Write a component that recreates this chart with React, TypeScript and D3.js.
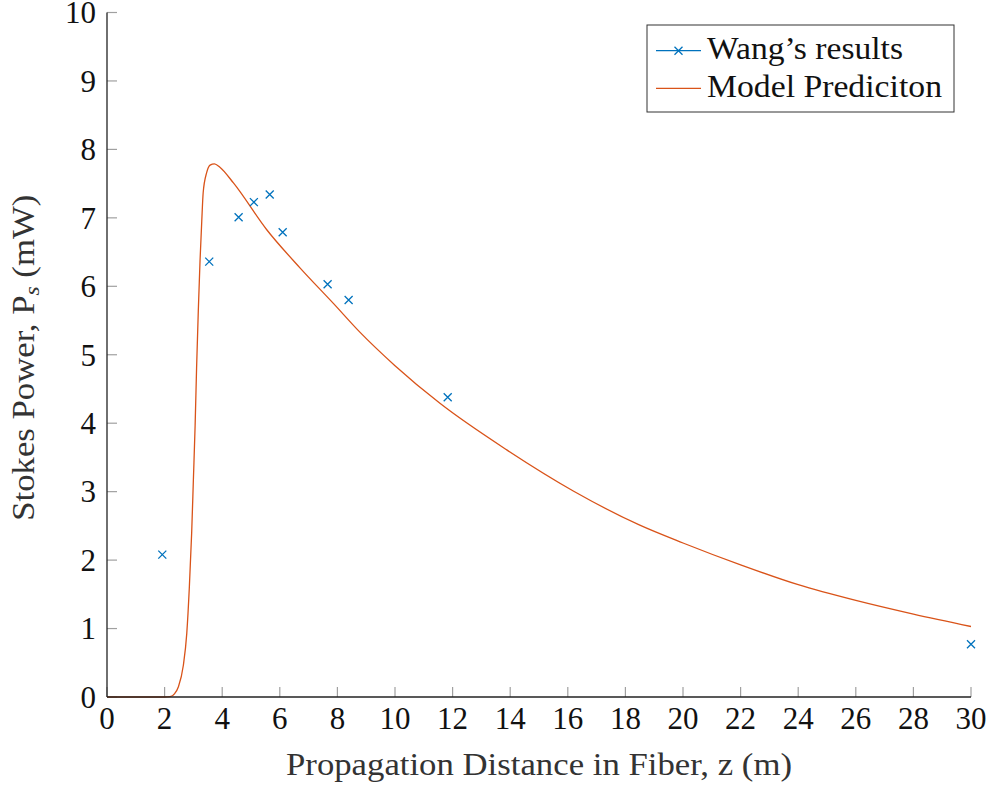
import React from "react";
import * as d3 from "d3";

const wangZ = [1.92, 3.55, 4.57, 5.1, 5.65, 6.1, 7.66, 8.39, 11.83, 30.0];
const wangP = [2.08, 6.36, 7.01, 7.23, 7.34, 6.79, 6.03, 5.8, 4.38, 0.77];

const modelZ = [0, 1, 2.0, 2.19, 2.35, 2.48, 2.65, 2.77, 2.86, 2.94, 3.0, 3.06, 3.11, 3.17, 3.23, 3.29, 3.34, 3.46, 3.58, 3.73, 3.92, 4.39, 5.54, 6.7, 7.86, 8.78, 10, 11.56, 13.88, 16.19, 18.5, 20, 22, 24, 26, 28, 30];
const modelP = [0, 0, 0, 0.005, 0.05, 0.15, 0.46, 0.93, 1.61, 2.4, 3.18, 3.97, 4.8, 5.64, 6.37, 6.95, 7.37, 7.66, 7.77, 7.79, 7.74, 7.51, 6.83, 6.27, 5.75, 5.33, 4.84, 4.29, 3.61, 3.01, 2.51, 2.25, 1.93, 1.64, 1.41, 1.21, 1.03];

const xTicks = d3.range(0, 31, 2);
const yTicks = d3.range(0, 11, 1);

const seriesNames = ["Wang\u2019s results", "Model Prediciton"];
const xLabel = "Propagation Distance in Fiber, z (m)";

const W = 990;
const H = 786;
const m = { left: 107, right: 971, top: 12.5, bottom: 697 };
const blue = "#0072BD";
const orange = "#D95319";
const font = "'Liberation Serif', 'DejaVu Serif', serif";
const FS = 31;

export default function App() {
  const x = d3.scaleLinear().domain([0, 30]).range([m.left, m.right]);
  const y = d3.scaleLinear().domain([0, 10]).range([m.bottom, m.top]);
  const line = d3
    .line<number>()
    .x((_, i) => x(modelZ[i]))
    .y((d) => y(d))
    .curve(d3.curveMonotoneX);
  const cross = (cx: number, cy: number, k: string | number) => (
    <path
      key={k}
      d={`M${cx - 4},${cy - 4}L${cx + 4},${cy + 4}M${cx - 4},${cy + 4}L${cx + 4},${cy - 4}`}
      stroke={blue}
      strokeWidth={1.3}
      fill="none"
    />
  );
  return (
    <svg
      width={W}
      height={H}
      style={{ position: "absolute", left: 0, top: 0, background: "#fff" }}
      fontFamily={font}
    >
      <rect width={W} height={H} fill="#fff" />
      {xTicks.map((t) => (
        <line key={"xt" + t} x1={x(t)} x2={x(t)} y1={m.bottom} y2={m.bottom - 10} stroke="#a0a0a0" strokeWidth={1.2} />
      ))}
      {yTicks.map((t) => (
        <line key={"yt" + t} x1={m.left} x2={m.left + 10} y1={y(t)} y2={y(t)} stroke="#a0a0a0" strokeWidth={1.2} />
      ))}
      <path d={line(modelP) || ""} fill="none" stroke={orange} strokeWidth={1.3} />
      {wangZ.map((z, i) => cross(x(z), y(wangP[i]), i))}
      <line x1={m.left} x2={m.left} y1={m.top} y2={m.bottom} stroke="#222" strokeWidth={1.3} />
      <line x1={m.left} x2={m.right} y1={m.bottom} y2={m.bottom} stroke="#222" strokeWidth={1.3} />
      {xTicks.map((t) => (
        <text key={"xl" + t} x={x(t)} y={729} textAnchor="middle" fontSize={FS} fill="#111">
          {t}
        </text>
      ))}
      {yTicks.map((t) => (
        <text key={"yl" + t} x={96} y={y(t) + 10.8} textAnchor="end" fontSize={FS} fill="#111">
          {t}
        </text>
      ))}
      <text
        x={(m.left + m.right) / 2}
        y={775}
        textAnchor="middle"
        fontSize={FS}
        fill="#333"
        textLength={506}
        lengthAdjust="spacingAndGlyphs"
      >
        {xLabel}
      </text>
      <text
        transform={`translate(34, ${(m.top + m.bottom) / 2 + 3}) rotate(-90) scale(1.12, 1)`}
        textAnchor="middle"
        fontSize={FS}
        fill="#333"
      >
        Stokes Power, P<tspan fontStyle="italic" fontSize={21} dy={5}>s</tspan>
        <tspan dy={-5}> (mW)</tspan>
      </text>
      <rect x={647} y={25} width={307} height={87} fill="#fff" stroke="#333" strokeWidth={1} />
      <line x1={656} x2={701} y1={50.7} y2={50.7} stroke={blue} strokeWidth={1.3} />
      {cross(678.5, 50.7, "leg")}
      <text x={707} y={59.3} fontSize={FS} fill="#111" textLength={196} lengthAdjust="spacingAndGlyphs">
        {seriesNames[0]}
      </text>
      <line x1={656} x2={701} y1={88.3} y2={88.3} stroke={orange} strokeWidth={1.3} />
      <text x={707} y={96.7} fontSize={FS} fill="#111" textLength={235} lengthAdjust="spacingAndGlyphs">
        {seriesNames[1]}
      </text>
    </svg>
  );
}
